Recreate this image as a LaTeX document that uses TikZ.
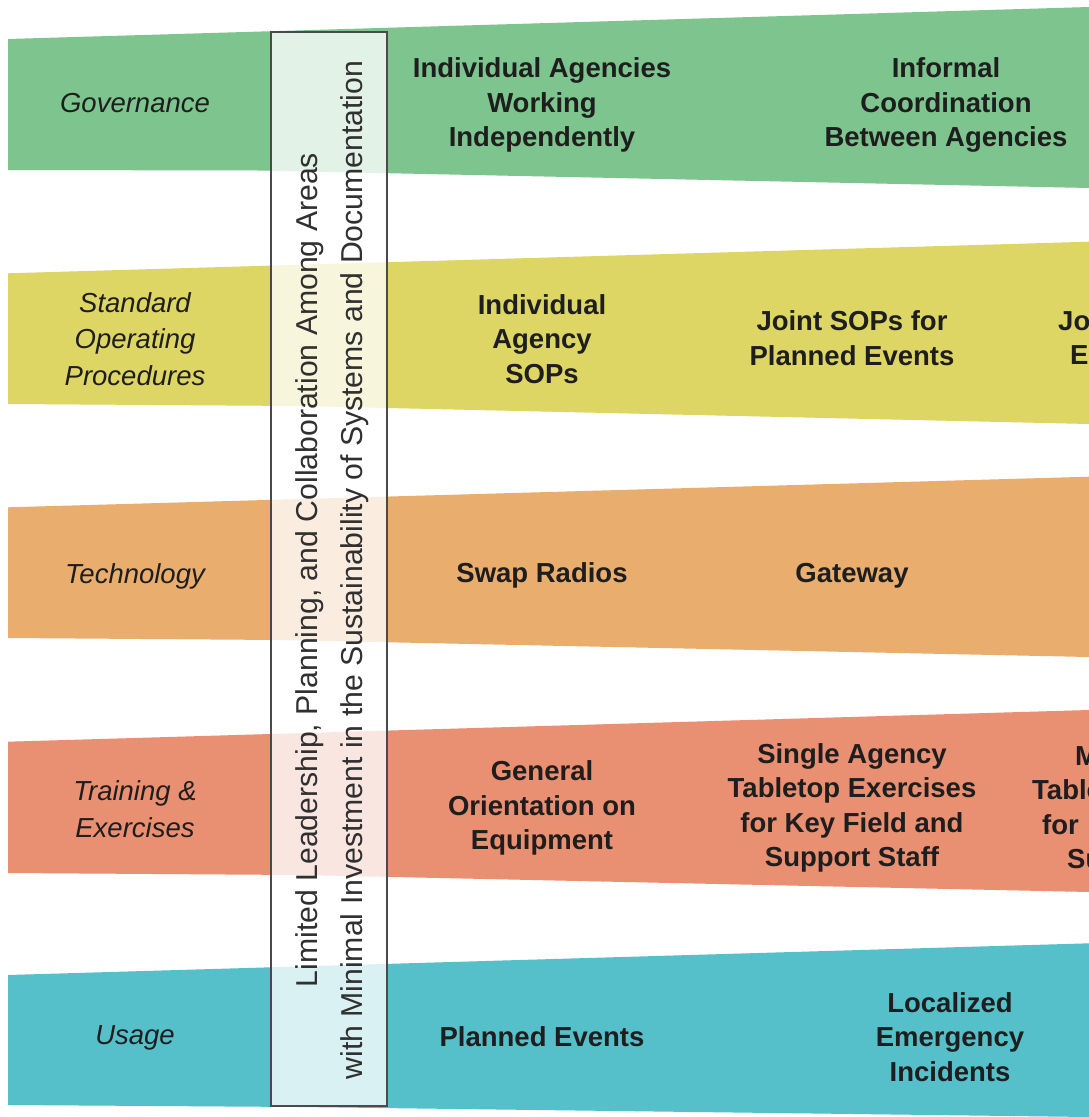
\documentclass[tikz,border=0pt]{standalone}
\usepackage{fontspec}
\setmainfont{Liberation Sans}
\definecolor{cgov}{HTML}{7DC48E}
\definecolor{csop}{HTML}{DDD564}
\definecolor{ctech}{HTML}{E9AD6E}
\definecolor{ctrain}{HTML}{E98F72}
\definecolor{cuse}{HTML}{55C0C9}
\definecolor{txt}{HTML}{1E1E1E}
\definecolor{boxline}{HTML}{4A4A4A}
\definecolor{bartxt}{HTML}{303030}
\begin{document}
\begin{tikzpicture}[x=1pt,y=-1pt,
  lab/.style={font=\itshape\fontsize{27.5}{36.5}\selectfont, align=center, text=txt, inner sep=0pt},
  cell/.style={font=\bfseries\fontsize{27.5}{34.5}\selectfont, align=center, text=txt, inner sep=0pt},
  frag/.style={font=\bfseries\fontsize{27.5}{34.5}\selectfont, text=txt, inner sep=0pt, anchor=base west},
  barbox/.style={draw=boxline, line width=2pt, fill=white, fill opacity=0.78, minimum width=116pt, minimum height=1074pt, inner sep=0pt},
  bartext/.style={rotate=90, font=\fontsize{30.2}{45}\selectfont, align=center, text=bartxt, inner sep=0pt}]
\useasboundingbox (0,0) rectangle (1089,1117);
\clip (0,0) rectangle (1089,1117);
\fill[white] (0,0) rectangle (1089,1117);
% bands
\fill[cgov] (8,39) -- (1089,7) -- (1089,188) -- (260,170.5) -- (8,170) -- cycle;
\fill[csop] (8,273.3) -- (1089,241.7) -- (1089,424) -- (300,406) -- (8,404) -- cycle;
\fill[ctech] (8,507.3) -- (1089,476.7) -- (1089,657) -- (280,640) -- (8,638) -- cycle;
\fill[ctrain] (8,741.7) -- (1089,710) -- (1089,892) -- (300,875) -- (8,873) -- cycle;
\fill[cuse] (8,975) -- (1089,943.3) -- (1089,1117) -- (300,1107) -- (8,1105) -- cycle;
% vertical bar
\node[barbox] (bar) at (329,569) {};
\node[bartext] (bartxt) at (332,570) {Limited Leadership, Planning, and Collaboration Among Areas\\with Minimal Investment in the Sustainability of Systems and Documentation};
% row labels
\node[lab] (g0) at (135,103) {Governance};
\node[lab] (s0) at (135,339) {Standard\\Operating\\Procedures};
\node[lab] (t0) at (135,576) {Technology};
\node[lab] (r0) at (135,809) {Training \&\\Exercises};
\node[lab] (u0) at (135,1038) {Usage};
% governance
\node[cell] (g1) at (542,105) {Individual Agencies\\Working\\Independently};
\node[cell] (g2) at (946,105) {Informal\\Coordination\\Between Agencies};
% SOP
\node[cell] (s1) at (542,339) {Individual\\Agency\\SOPs};
\node[cell] (s2) at (852,338) {Joint SOPs for\\Planned Events};
\node[frag] (s3a) at (1058,330) {Jo};
\node[frag] (s3b) at (1070,364) {Em};
% technology
\node[cell] (t1) at (542,575) {Swap Radios};
\node[cell] (t2) at (852,576) {Gateway};
% training
\node[cell] (r1) at (542,808) {General\\Orientation on\\Equipment};
\node[cell] (r2) at (852,808) {Single Agency\\Tabletop Exercises\\for Key Field and\\Support Staff};
\node[frag] (r3a) at (1075,765) {M};
\node[frag] (r3b) at (1032,799.5) {Table};
\node[frag] (r3c) at (1042,834) {for};
\node[frag] (r3d) at (1067,868.5) {Su};
% usage
\node[cell] (u1) at (542,1037) {Planned Events};
\node[cell] (u2) at (950,1037) {Localized\\Emergency\\Incidents};
\end{tikzpicture}
\end{document}
